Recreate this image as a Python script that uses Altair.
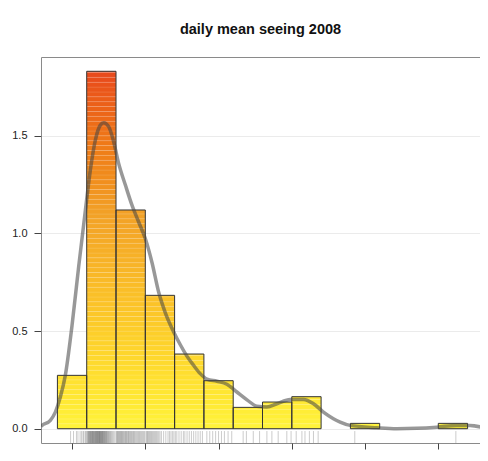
import math
import altair as alt
import pandas as pd

# ---------------- data ----------------
title_text = "daily mean seeing 2008"

bin_edges = [0.4, 0.6, 0.8, 1.0, 1.2, 1.4, 1.6, 1.8, 2.0, 2.2, 2.4, 2.6, 2.8, 3.0, 3.2]
bin_counts = [10, 67, 41, 25, 14, 9, 4, 5, 6, 0, 1, 0, 0, 1]

dens_x = [0.288, 0.295, 0.352, 0.386, 0.420, 0.454, 0.500, 0.545, 0.591, 0.625, 0.659,
          0.693, 0.716, 0.750, 0.784, 0.818, 0.864, 0.909, 0.954, 1.000, 1.046,
          1.091, 1.136, 1.193, 1.239, 1.284, 1.329, 1.375, 1.421, 1.489, 1.557,
          1.625, 1.694, 1.762, 1.830, 1.898, 1.989, 2.080, 2.148, 2.216, 2.284,
          2.330, 2.398, 2.580, 2.717, 2.853, 2.990, 3.126, 3.217, 3.312]
dens_y = [0.012, 0.017, 0.043, 0.085, 0.162, 0.273, 0.530, 0.829, 1.119, 1.325, 1.478,
          1.555, 1.567, 1.547, 1.470, 1.359, 1.248, 1.145, 1.060, 0.974, 0.850,
          0.700, 0.595, 0.497, 0.430, 0.372, 0.325, 0.282, 0.254, 0.243, 0.228,
          0.188, 0.148, 0.115, 0.111, 0.128, 0.149, 0.150, 0.128, 0.085, 0.051,
          0.034, 0.017, 0.005, 0.000, 0.002, 0.008, 0.017, 0.017, 0.004]

rug_values = [
    0.49, 0.51, 0.53, 0.54, 0.555, 0.565, 0.575, 0.58, 0.59, 0.595,
    0.601, 0.605, 0.61, 0.612, 0.615, 0.618, 0.62, 0.623, 0.626, 0.628,
    0.63, 0.633, 0.636, 0.638, 0.64, 0.642, 0.645, 0.647, 0.65, 0.652,
    0.655, 0.657, 0.66, 0.662, 0.664, 0.667, 0.669, 0.671, 0.673, 0.675,
    0.677, 0.68, 0.682, 0.684, 0.686, 0.688, 0.69, 0.692, 0.694, 0.697,
    0.699, 0.701, 0.704, 0.706, 0.708, 0.71, 0.713, 0.716, 0.718, 0.72,
    0.723, 0.726, 0.729, 0.732, 0.735, 0.738, 0.741, 0.745, 0.749, 0.753,
    0.757, 0.762, 0.767, 0.772, 0.778, 0.785, 0.793,
    0.802, 0.806, 0.81, 0.814, 0.818, 0.822, 0.826, 0.83, 0.834, 0.838,
    0.842, 0.846, 0.85, 0.855, 0.86, 0.864, 0.868, 0.872, 0.877, 0.882,
    0.886, 0.89, 0.895, 0.9, 0.905, 0.91, 0.915, 0.92, 0.925, 0.93,
    0.936, 0.942, 0.948, 0.954, 0.96, 0.966, 0.972, 0.978, 0.984, 0.99, 0.996,
    1.005, 1.01, 1.015, 1.02, 1.025, 1.03, 1.036, 1.042, 1.048, 1.054,
    1.06, 1.066, 1.072, 1.078, 1.085, 1.092, 1.1, 1.11, 1.125, 1.14,
    1.155, 1.165, 1.175, 1.185, 1.195,
    1.205, 1.215, 1.23, 1.245, 1.26, 1.27, 1.285, 1.3, 1.315, 1.33, 1.345, 1.36, 1.375, 1.39,
    1.42, 1.44, 1.46, 1.48, 1.5, 1.52, 1.54, 1.565, 1.59,
    1.668, 1.69, 1.737, 1.78,
    1.83, 1.864, 1.907, 1.966, 1.995,
    2.03, 2.069, 2.09, 2.12, 2.148, 2.18,
    2.43,
    3.12,
]

x_ticks = [0.5, 1.0, 1.5, 2.0, 2.5, 3.0]
y_ticks = [0.0, 0.5, 1.0, 1.5]

# ---------------- derived tables ----------------
n_obs = sum(bin_counts)
hist = pd.DataFrame({"x0": bin_edges[:-1], "x1": bin_edges[1:], "count": bin_counts})
hist["density"] = hist["count"] / (n_obs * (hist["x1"] - hist["x0"]))
hist = hist[hist["count"] > 0]

ymax = hist["density"].max()
span = bin_edges[-1] - bin_edges[0]
full_lo = bin_edges[0] - 0.04 * span
full_hi = bin_edges[-1] + 0.04 * span
FULL_W = 443          # width the full R range would take
PLOT_W = 439          # what fits into the page
x_dom = [full_lo, full_lo + (full_hi - full_lo) * PLOT_W / FULL_W]
y_dom = [-0.04 * ymax, ymax * 1.04]

step = 0.025
rows = []
for _, r in hist.iterrows():
    k = 0
    while k * step < r["density"] - 1e-9:
        y0 = k * step
        y1 = min((k + 1) * step, r["density"])
        rows.append({"x0": r["x0"], "x1": r["x1"], "y0": y0, "y1": y1, "ym": (y0 + y1) / 2})
        k += 1
slices = pd.DataFrame(rows)

dens = pd.DataFrame({"x": dens_x, "y": dens_y})
rug = pd.DataFrame({"v": rug_values})

FONT = "Liberation Sans"
xscale = alt.Scale(domain=x_dom, nice=False, zero=False)
yscale = alt.Scale(domain=y_dom, nice=False, zero=False)

slice_layer = alt.Chart(slices).mark_rect(
    stroke="white", strokeWidth=0.4, strokeOpacity=0.25
).encode(
    x=alt.X("x0:Q", scale=xscale,
            axis=alt.Axis(values=x_ticks, format=".1f", title=None, grid=False, domain=False,
                          tickSize=6, tickColor="#444", labelPadding=9, labelFontSize=11,
                          labelFont=FONT, labelColor="#222")),
    x2="x1:Q",
    y=alt.Y("y0:Q", scale=yscale,
            axis=alt.Axis(values=y_ticks, format=".1f", title=None, grid=True,
                          gridColor="#ebebeb", gridWidth=1, domain=False, tickSize=7,
                          tickColor="#444", labelPadding=7, labelFontSize=11,
                          labelFont=FONT, labelColor="#222")),
    y2="y1:Q",
    color=alt.Color("ym:Q", legend=None,
                    scale=alt.Scale(domain=[0, 1.1, 1.83],
                                    range=["#fff43a", "#f2a127", "#e8481c"])),
)

outline_layer = alt.Chart(hist).mark_rect(
    fillOpacity=0, stroke="#333333", strokeWidth=1
).encode(
    x="x0:Q", x2="x1:Q",
    y=alt.Y("y0:Q"), y2="density:Q",
).transform_calculate(y0="0")

dens_layer = alt.Chart(dens).mark_line(
    color="#444444", opacity=0.55, strokeWidth=3.5, interpolate="monotone", clip=True
).encode(x="x:Q", y="y:Q")

rug_layer = alt.Chart(rug).mark_rule(
    color="#555555", opacity=0.3, strokeWidth=1
).encode(
    x="v:Q",
    y=alt.datum(-0.012),
    y2=alt.datum(y_dom[0]),
)

chart = alt.layer(slice_layer, outline_layer, dens_layer, rug_layer).properties(
    width=PLOT_W,
    height=386,
    title=alt.TitleParams(title_text, fontSize=14.5, font=FONT, fontWeight="bold",
                          color="#111", anchor="middle", offset=20),
    autosize=alt.AutoSizeParams(type="none"),
    padding={"left": 33, "top": 49, "right": 0, "bottom": 10},
).configure_view(
    stroke="#8a8a8a", strokeWidth=1
)

chart.save("out.html", embed_options={"renderer": "svg", "actions": False})
